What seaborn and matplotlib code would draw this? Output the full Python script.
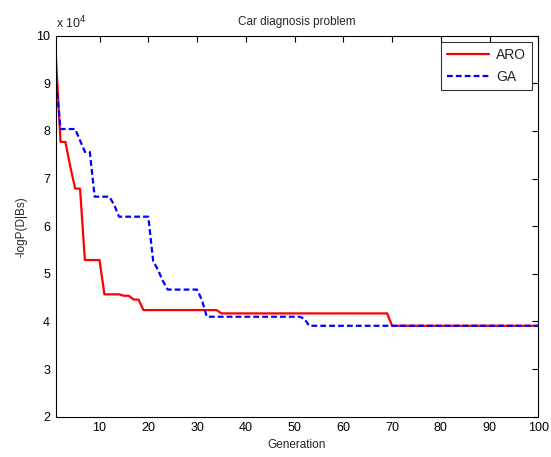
import numpy as np
import pandas as pd
import seaborn as sns
import matplotlib
matplotlib.use("Agg")
import matplotlib.pyplot as plt
from matplotlib.ticker import FuncFormatter

# values, in units of -logP(D|Bs)
gen = list(range(1, 101))

aro = ([96500, 77700, 77700, 72500, 67900, 67900]
       + [52900] * 4
       + [45700] * 4
       + [45400] * 2
       + [44600] * 2
       + [42400] * 16
       + [41700] * 35
       + [39100] * 31)

ga = ([91700, 80400, 80400, 80400, 80400, 78000, 75600, 75600]
      + [66200] * 4
      + [64500]
      + [62000] * 7
      + [52700, 50800, 48500]
      + [46700] * 7
      + [44500]
      + [41000] * 20
      + [40600]
      + [39100] * 48)

methods = ["ARO", "GA"]

df = pd.DataFrame({
    "Generation": gen * 2,
    "value": aro + ga,
    "method": [methods[0]] * len(aro) + [methods[1]] * len(ga),
})

sns.set_style("white")
plt.rcParams["font.family"] = ["Liberation Sans", "DejaVu Sans"]
plt.rcParams["font.size"] = 9

fig = plt.figure(figsize=(5.51, 4.57), dpi=100)
ax = fig.add_axes([0.101, 0.088, 0.876, 0.834])

sns.lineplot(data=df, x="Generation", y="value", hue="method", style="method",
             palette={"ARO": "#ff0000", "GA": "#0000ff"},
             dashes={"ARO": "", "GA": (2.6, 1.4)}, linewidth=1.6, ax=ax)

ax.set_xlim(1, 100)
ax.set_ylim(20000, 100000)
ax.set_xticks(range(10, 101, 10))
ax.set_yticks(range(20000, 100001, 10000))
ax.yaxis.set_major_formatter(FuncFormatter(lambda v, p: "%d" % round(v / 1e4)))
ax.tick_params(direction="in", length=4, width=0.8, top=True, right=True,
               labelsize=9, colors="black")
ax.tick_params(axis="x", pad=4)
ax.tick_params(axis="y", pad=4)
for s in ax.spines.values():
    s.set_color("black")
    s.set_linewidth(0.8)

ax.text(0.0, 1.012, "x 10$^4$", transform=ax.transAxes, fontsize=9,
        ha="left", va="bottom")
ax.set_title("Car diagnosis problem", fontsize=8.5, pad=8)
ax.set_xlabel("Generation", fontsize=8.5, labelpad=3)
ax.set_ylabel("-logP(D|Bs)", fontsize=8.5, labelpad=6)

leg = ax.legend(loc="upper right", fontsize=10, frameon=True, fancybox=False,
                edgecolor="black", handlelength=3.0, borderpad=0.45,
                labelspacing=0.55, handletextpad=0.5, borderaxespad=0.45)
leg.get_frame().set_linewidth(0.8)

fig.savefig("out.png", dpi=100)
